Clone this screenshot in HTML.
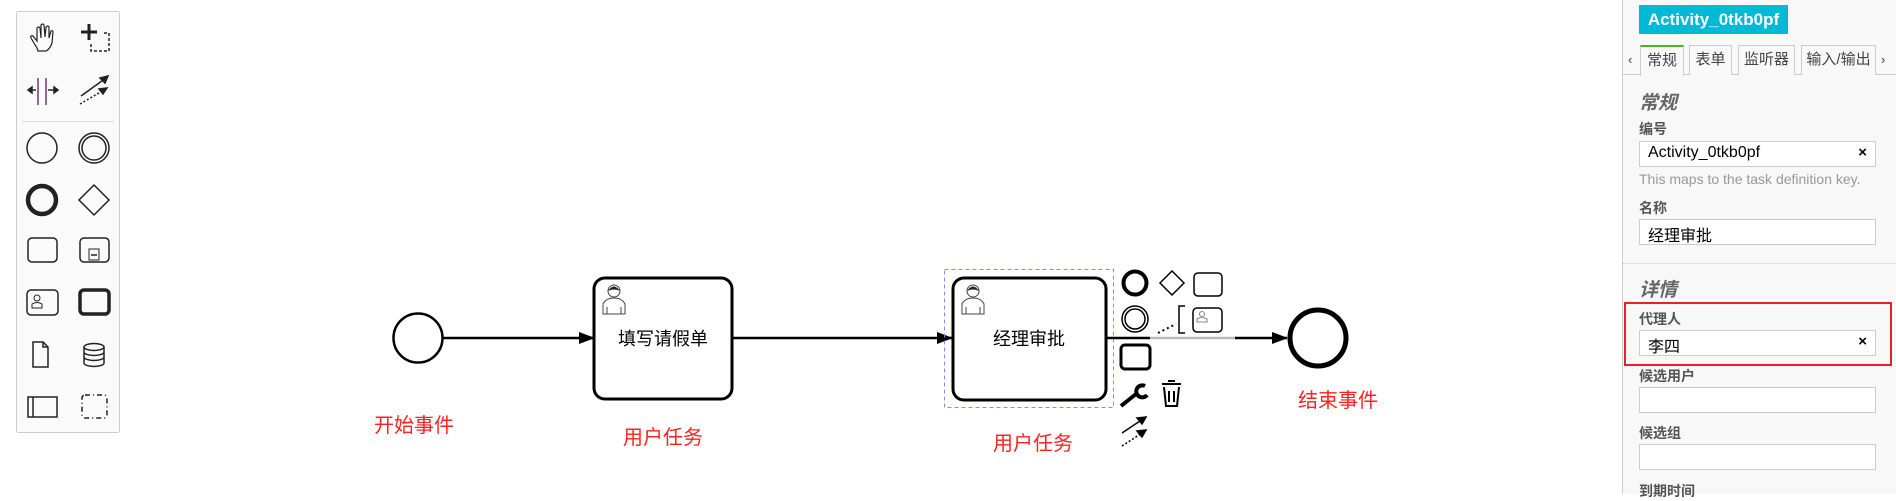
<!DOCTYPE html>
<html><head><meta charset="utf-8"><style>
*{margin:0;padding:0;box-sizing:border-box}
body{width:1896px;height:494px;overflow:hidden;background:#fff;font-family:"Liberation Sans","Noto Sans CJK SC",sans-serif;position:relative}
.abs{position:absolute}
#panel{position:absolute;left:1622px;top:0;width:274px;height:494px;background:#f8f8f8;border-left:1px solid #ccc}
.lbl{position:absolute;left:16px;font-size:14px;color:#555;font-weight:bold}
.inp{position:absolute;left:16px;width:237px;height:26px;background:#fff;border:1px solid #ccc;font-size:16px;padding:2px 8px;color:#000}
.x{position:absolute;right:8px;top:2px;font-weight:bold;font-size:15px}
.tab{position:absolute;top:45px;height:30px;border:1px solid #ccc;border-bottom:none;background:#f8f8f8;font-size:15px;color:#444;text-align:center;line-height:28px}
.h{position:absolute;left:16px;font-size:19px;font-weight:bold;font-style:italic;color:#666}
</style></head><body>
<svg class="abs" style="left:0;top:0" width="1622" height="494" viewBox="0 0 1622 494">
<defs>
<marker id="ar2" viewBox="0 0 16 12" markerWidth="16" markerHeight="12" refX="15" refY="6" orient="auto" markerUnits="userSpaceOnUse"><path d="M0,0 L16,6 L0,12 z" fill="#000"/></marker></defs>
<rect x="16.5" y="11.5" width="103" height="421" fill="#fafafa" stroke="#ccc" rx="2"/>
<line x1="22" y1="121.5" x2="114" y2="121.5" stroke="#ddd"/>
<g fill="none" stroke="#222" stroke-width="1.5">
<path d="M37,48 L31,38 Q30,35 33,36 L37,41 L37,28 Q39,26 40,28 L41,38 L41,25 Q43,23 44,25 L45,37 L46,27 Q48,25 49,27 L49,38 L51,31 Q53,30 53,32 L52,43 Q50,49 46,51 L38,51 z" stroke-width="1.2"/>
<path d="M89,24 v16 M81,32 h16" stroke-width="3"/>
<path d="M91,44 v7 h18 v-18 h-7" stroke-dasharray="3,2"/>
<path d="M38,78 v27 M46,78 v27" stroke="#6a3a7a"/><path d="M28,90 h8 M48,90 h8"/><path d="M28,90 l4,-3 v6 z M58,90 l-4,-3 v6z" fill="#222"/>
<path d="M81,96 L106,78" /><path d="M108,76 l-8,2 l5,5z" fill="#222"/><path d="M80,104 L104,90" stroke-dasharray="2,2"/><path d="M107,88 l-8,1 l4,5z" fill="#222"/>
<circle cx="42" cy="148" r="15"/>
<circle cx="94" cy="148" r="15"/><circle cx="94" cy="148" r="12"/>
<circle cx="42" cy="200" r="14" stroke-width="4.5"/>
<path d="M94,185 L109,200 L94,215 L79,200 z"/>
<rect x="28" y="238" width="29" height="24" rx="4"/>
<rect x="80" y="238" width="29" height="24" rx="4"/><rect x="89" y="249" width="10" height="11" stroke-width="1"/><path d="M91,255 h6"/>
<rect x="27" y="290" width="31" height="25" rx="4"/><circle cx="37" cy="298" r="3" stroke-width="1"/><path d="M32,308 v-4 q5,-3 10,0 v4z" stroke-width="1"/>
<rect x="80" y="290" width="29" height="24" rx="4" stroke-width="3.5"/>
<path d="M33,342 h10 l5,5 v20 h-15 z M43,342 v5 h5"/>
<ellipse cx="94" cy="347" rx="10" ry="3.5"/><path d="M84,347 v16 a10,3.5 0 0 0 20,0 v-16 M84,352 a10,3.5 0 0 0 20,0 M84,357 a10,3.5 0 0 0 20,0"/>
<rect x="28" y="397" width="29" height="20"/><path d="M33,397 v20"/>
<rect x="82" y="395" width="25" height="23" rx="3" stroke-dasharray="5,3,1,3"/>
</g>
<g fill="none" stroke="#000">
<circle cx="418" cy="338" r="24.5" stroke-width="2.5"/>
<line x1="443" y1="338" x2="594" y2="338" stroke-width="2.5" marker-end="url(#ar2)"/>
<rect x="594" y="278" width="138" height="121" rx="11" stroke-width="3"/>
<line x1="732" y1="338" x2="952" y2="338" stroke-width="2.5" marker-end="url(#ar2)"/>
<rect x="944.5" y="269.5" width="169" height="138" stroke="#88f" stroke-width="1" stroke-dasharray="4,3"/>
<rect x="953" y="278" width="153" height="122" rx="11" stroke-width="3"/>
<line x1="1106" y1="338" x2="1150" y2="338" stroke-width="2.5"/>
<line x1="1150" y1="338" x2="1235" y2="338" stroke="#bbb" stroke-width="2.5"/>
<line x1="1235" y1="338" x2="1287" y2="338" stroke-width="2.5" marker-end="url(#ar2)"/>
<circle cx="1318" cy="338" r="28" stroke-width="5"/>
</g>
<g fill="none" stroke="#444" stroke-width="1">
<circle cx="614" cy="291" r="6"/><path d="M603,314 v-10 q3,-6 11,-6 q8,0 11,6 v10 z M607,314 v-7 M621,314 v-7"/>
<circle cx="973" cy="291" r="6"/><path d="M962,314 v-10 q3,-6 11,-6 q8,0 11,6 v10 z M966,314 v-7 M980,314 v-7"/>
</g>
<path d="M608,291 q6,-9 12,0 q-6,-3 -12,0z M967,291 q6,-9 12,0 q-6,-3 -12,0z" fill="#222"/>
<g font-family="Liberation Sans,Noto Sans CJK SC,sans-serif">
<text x="663" y="345" font-size="18" text-anchor="middle">填写请假单</text>
<text x="1029" y="345" font-size="18" text-anchor="middle">经理审批</text>
<text x="414" y="432" font-size="20" fill="#f22" text-anchor="middle">开始事件</text>
<text x="663" y="444" font-size="20" fill="#f22" text-anchor="middle">用户任务</text>
<text x="1033" y="450" font-size="20" fill="#f22" text-anchor="middle">用户任务</text>
<text x="1338" y="407" font-size="20" fill="#f22" text-anchor="middle">结束事件</text>
</g>
<g fill="none" stroke="#000" stroke-width="1.5">
<circle cx="1135" cy="283" r="11.5" stroke-width="4"/>
<path d="M1172,271 L1184,283 L1172,295 L1160,283 z"/>
<rect x="1194" y="273" width="28" height="23" rx="4"/>
<circle cx="1135" cy="319" r="13"/><circle cx="1135" cy="319" r="10"/>
<path d="M1158,333 L1176,324" stroke-dasharray="2,3" stroke-width="2"/>
<path d="M1185,306 h-6 v27 h6"/>
<rect x="1193" y="308" width="29" height="24" rx="4"/><circle cx="1202" cy="314" r="2.5" stroke-width="0.8" stroke="#666"/><path d="M1197,322 v-3 q5,-3 10,0 v3z" stroke-width="0.8" stroke="#666"/>
<rect x="1121" y="345" width="29" height="24" rx="4" stroke-width="3"/>
<path d="M1121,406 L1136,394" stroke-width="4"/><path d="M1145,386 a6,6 0 1 0 2,9" stroke-width="4"/>
<path d="M1162,384 h19 M1168,381 h7 M1164,387 l2,19 h11 l2,-19 M1169,391 v11 M1174,391 v11" stroke-width="2"/>
<path d="M1122,433 L1143,419" stroke-width="1.5"/><path d="M1146,417 l-9,1 l5,6z" fill="#000"/>
<path d="M1122,446 L1142,433" stroke-dasharray="2,2"/><path d="M1146,430 l-9,1 l5,6z" fill="#000"/>
</g>
</svg>
<div id="panel">
<div class="abs" style="left:16px;top:5px;width:149px;height:29px;background:#00b9d6;color:#fff;font-weight:bold;font-size:17px;text-align:center;line-height:29px">Activity_0tkb0pf</div>
<div class="abs" style="left:0;top:74px;width:274px;border-top:1px solid #ccc"></div>
<div class="abs" style="left:5px;top:52px;font-size:13px;color:#444">‹</div>
<div class="abs" style="left:258px;top:52px;font-size:13px;color:#444">›</div>
<div class="tab" style="left:17px;width:44px;border-top:2px solid #52b415;height:31px">常规</div>
<div class="tab" style="left:66px;width:43px">表单</div>
<div class="tab" style="left:115px;width:57px">监听器</div>
<div class="tab" style="left:178px;width:75px">输入/输出</div>
<div class="h" style="top:88px">常规</div>
<div class="lbl" style="top:119px">编号</div>
<div class="inp" style="top:141px">Activity_0tkb0pf<span class="x">×</span></div>
<div class="abs" style="left:16px;top:171px;font-size:14px;color:#999;white-space:nowrap">This maps to the task definition key.</div>
<div class="lbl" style="top:198px">名称</div>
<div class="inp" style="top:219px">经理审批</div>
<div class="abs" style="left:0;top:263px;width:274px;border-top:1px dotted #ccc"></div>
<div class="h" style="top:275px">详情</div>
<div class="abs" style="left:1px;top:302px;width:268px;height:64px;border:2px solid #e8202a"></div>
<div class="lbl" style="top:309px">代理人</div>
<div class="inp" style="top:330px">李四<span class="x">×</span></div>
<div class="lbl" style="top:366px">候选用户</div>
<div class="inp" style="top:387px"></div>
<div class="lbl" style="top:423px">候选组</div>
<div class="inp" style="top:444px"></div>
<div class="lbl" style="top:481px">到期时间</div>
</div>
</body></html>
